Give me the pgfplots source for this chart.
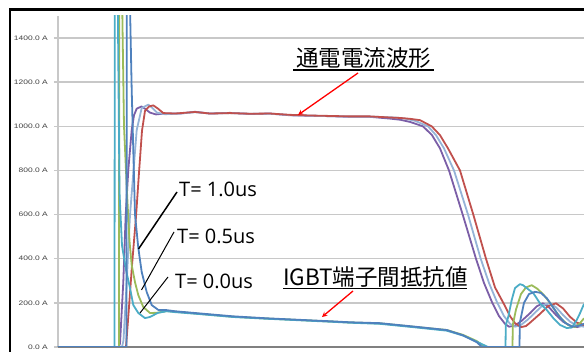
\documentclass[border=0pt]{standalone}
\usepackage{fontspec}
\usepackage{graphicx}
\usepackage{pgfplots}
\pgfplotsset{compat=1.18}
\setmainfont{Liberation Sans}
\newfontfamily\jp{Noto Sans CJK JP}
\newfontfamily\os{Open Sans}
\definecolor{cPur}{HTML}{7B5EA7}
\definecolor{cLB}{HTML}{95B3D7}
\definecolor{cRed}{HTML}{C0504D}
\definecolor{cBlue}{HTML}{4F81BD}
\definecolor{cGreen}{HTML}{9BBB59}
\definecolor{cTeal}{HTML}{4BACC6}
\definecolor{cGrid}{HTML}{C8C8C8}
\definecolor{cTick}{HTML}{404040}
\begin{document}
\begin{tikzpicture}[x=1pt,y=1pt]
\path[use as bounding box] (0,0) rectangle (584,352);
\begin{axis}[
  at={(58pt,5pt)}, anchor=south west,
  scale only axis, width=526pt, height=331pt,
  xmin=58, xmax=584, ymin=0, ymax=1500,
  axis x line*=bottom, axis y line*=left,
  x axis line style={draw=gray, line width=1.8pt},
  y axis line style={draw=cGrid, line width=1.5pt},
  xtick=\empty,
  ytick={0,200,...,1400},
  ymajorgrids,
  grid style={draw=cGrid, line width=1.5pt},
  tick align=outside, major tick length=4pt,
  ytick style={draw=cGrid, line width=1.5pt},
  yticklabel style={anchor=east, inner sep=0pt, xshift=-6pt, text=cTick, font=\fontsize{6.5}{7}\selectfont},
  yticklabel={\scalebox{1.3}[1]{\pgfmathprintnumber[fixed,fixed zerofill,precision=1,1000 sep={},assume math mode=true]{\tick} A}},
  every axis plot/.append style={line width=1.8pt, line join=round, no markers},
]
% purple current
\addplot[cPur] coordinates {(58,0) (118.5,0) (120,15) (123.3,294) (125.7,598) (128.3,802) (131.7,983) (134,1050) (136.7,1080) (141.5,1090) (145,1080) (150,1062) (156,1054) (165,1058) (180,1058) (195,1066) (210,1058) (230,1061) (250,1056) (270,1058) (290,1050) (310,1048) (330,1046) (350,1043) (370,1043) (390,1035) (400,1030) (410,1020) (423,1000) (432,960) (440,900) (449,800) (462.7,600) (476,400) (484,290) (492.3,200) (499,140) (505,105) (509,92) (515,97) (522,120) (530,153) (537,185) (543,198) (549,180) (556,145) (563,115) (570,97) (577,90) (584,98)};
% light blue current
\addplot[cLB] coordinates {(58,0) (122,0) (123.5,30) (126.7,294) (130,598) (133.3,788) (136.7,983) (141.7,1083) (148.3,1098) (152,1085) (157,1062) (165,1055) (180,1058) (195,1064) (210,1058) (230,1060) (250,1057) (270,1057) (290,1051) (310,1048) (330,1046) (350,1044) (370,1044) (395,1040) (405,1035) (415,1025) (428,1000) (436,960) (444,900) (454,800) (468,600) (480.7,400) (489,290) (497.3,200) (504,140) (510,105) (515,92) (521,100) (528,125) (536,160) (543,190) (550,198) (556,180) (563,145) (570,115) (577,97) (584,92)};
% red current
\addplot[cRed] coordinates {(58,0) (126,0) (128.5,150) (132,370) (136,590) (139,790) (142,980) (145,1070) (149,1090) (153.3,1095) (158,1080) (163.3,1060) (175,1058) (195,1065) (210,1058) (230,1060) (250,1057) (270,1058) (290,1052) (310,1049) (330,1047) (350,1045) (370,1045) (390,1040) (400,1038) (410,1034) (420,1028) (431.7,1000) (440,960) (448,900) (460,800) (473.3,600) (486,400) (495,270) (503.3,200) (510,140) (515,108) (521,90) (526,95) (530,110) (540,150) (548,185) (556,198) (563,175) (570,137) (577,110) (584,100)};
% green resistance T=0.5us
\addplot[cGreen] coordinates {(58,0) (119,0) (119.3,1700) (121.7,1700) (124,1000) (127,700) (129.5,480) (131.7,371) (135,294) (138.3,235) (143.3,181) (150,154) (157,155) (166.7,163) (175,160) (200,150) (233,137) (266.7,129) (300,122) (333,115) (350,111) (380,107) (413,92) (446.7,77) (463,55) (476.7,27) (485,0) (512.5,0) (512.8,100) (516,170) (521,240) (526,270) (531.7,280) (537,265) (543,240) (550,200) (556,160) (562,125) (568,100) (575,90) (580,108) (584,130)};
% teal resistance T=0.0us
\addplot[cTeal] coordinates {(58,0) (114.5,0) (114.8,1700) (117.5,1700) (119.5,700) (122,460) (126,350) (130,267) (133.3,190) (138.3,154) (145,131) (150,136) (158,155) (166.7,162) (175,158) (200,149) (233,136) (266.7,128) (300,121) (333,114) (350,110) (380,105) (413,90) (446.7,74) (463,52) (476.7,24) (488,0) (505.5,0) (505.8,100) (508.3,137) (511.7,213) (515,267) (520,285) (523,280) (526.7,267) (533.3,244) (540,198) (546.7,168) (553.3,131) (560,100) (566.7,86) (571.7,88) (576.7,122) (580,153) (584,195)};
% blue resistance T=1.0us
\addplot[cBlue] coordinates {(58,0) (126.5,0) (126.8,1700) (129.3,1700) (131.7,1165) (135,600) (138.3,449) (141.7,340) (146.7,249) (151.7,190) (158.3,168) (166.7,167) (175,162) (200,152) (233,139) (266.7,130) (300,123) (333,116) (350,112) (380,108) (413,93) (446.7,77) (463,53) (476.7,22) (482,0) (519.5,0) (519.8,110) (524,200) (529,240) (535,250) (541,245) (547,220) (553,180) (559,140) (565,110) (572,92) (578,95) (584,105)};
\end{axis}
% frame
\draw[line width=2.3pt] (10,-2) -- (10,342.5) -- (590,342.5);
% annotations
\node[inner sep=0pt] at (363.5,294) {\jp\fontsize{22.5}{23}\selectfont 通電電流波形};
\draw[line width=1.2pt] (293,282) -- (434,282);
\draw[red, line width=1.3pt, -stealth] (358,279) -- (298,237);
\node[inner sep=0pt, anchor=west] at (283,75) {\jp\fontsize{22.5}{23}\selectfont IGBT端子間抵抗値};
\draw[line width=1.2pt] (283,63.5) -- (467,63.5);
\draw[red, line width=1.3pt, -stealth] (353,61) -- (322,35);
\node[inner sep=0pt, anchor=west] at (179,163) {\os\fontsize{20}{22}\selectfont T= 1.0us};
\node[inner sep=0pt, anchor=west] at (177,116) {\os\fontsize{20}{22}\selectfont T= 0.5us};
\node[inner sep=0pt, anchor=west] at (175,71) {\os\fontsize{20}{22}\selectfont T= 0.0us};
\draw[line width=1.5pt] (177,160) -- (138.5,103);
\draw[line width=1pt] (174,120) -- (141.5,62);
\draw[line width=1pt] (168,75) -- (140,39);
\end{tikzpicture}
\end{document}
